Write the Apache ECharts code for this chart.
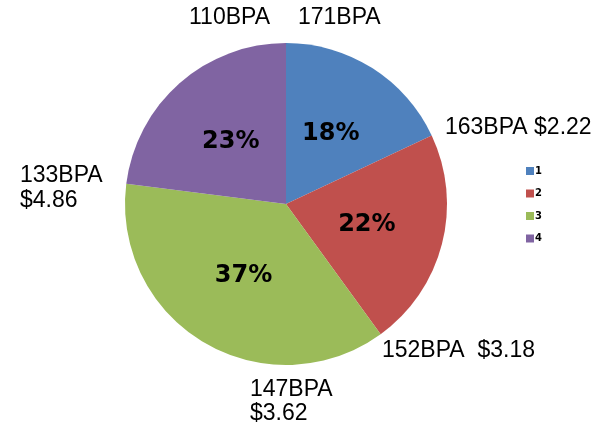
<!DOCTYPE html>
<html>
<head>
<meta charset="utf-8">
<script src="https://cdn.jsdelivr.net/npm/echarts@6/dist/echarts.min.js"></script>
<style>
  html, body { margin: 0; padding: 0; background: #fff; }
  #chart { width: 605px; height: 434px; }
</style>
</head>
<body>
<div id="chart"></div>
<script>
// slices
const categories = ['1', '2', '3', '4']
const shares = [18, 22, 37, 23]
const colors = ['#4F81BD', '#C0504D', '#9BBB59', '#8064A2']
// text annotations around the pie
const notes = ['110BPA', '171BPA', '163BPA $2.22', '133BPA', '$4.86', '152BPA  $3.18', '147BPA', '$3.62']
const notePos = [[189, 18], [298, 18], [445, 128], [20, 176], [20, 201], [382, 351], [250, 390], [250, 414]]

const chart = echarts.init(document.getElementById('chart'))

const option = {
  backgroundColor: '#fff',
  animation: false,
  legend: {
    orient: 'vertical',
    left: 521,
    top: 161,
    itemWidth: 8,
    itemHeight: 8,
    itemGap: 12.5,
    icon: 'rect',
    textStyle: {
      fontFamily: 'DejaVu Sans',
      fontWeight: 'bold',
      fontSize: 10,
      color: '#000',
      padding: [0, 0, 0, -4],
    },
    data: categories,
  },
  graphic: notes.map((t, i) => ({
    type: 'text',
    x: notePos[i][0],
    y: notePos[i][1],
    style: {
      text: t,
      fill: '#000',
      font: '23px "Liberation Sans", Arial, sans-serif',
      verticalAlign: 'middle',
    },
  })),
  series: [
    {
      type: 'pie',
      center: [286, 204],
      radius: 161,
      startAngle: 90,
      clockwise: true,
      color: colors,
      label: {
        position: 'inside',
        formatter: '{d}%',
        fontFamily: 'DejaVu Sans',
        fontWeight: 'bold',
        fontSize: 24,
        color: '#000',
      },
      labelLine: { show: false },
      emphasis: { disabled: true },
      data: categories.map((c, i) => ({ name: c, value: shares[i] })),
    },
  ],
}

chart.setOption(option)
</script>
</body>
</html>
